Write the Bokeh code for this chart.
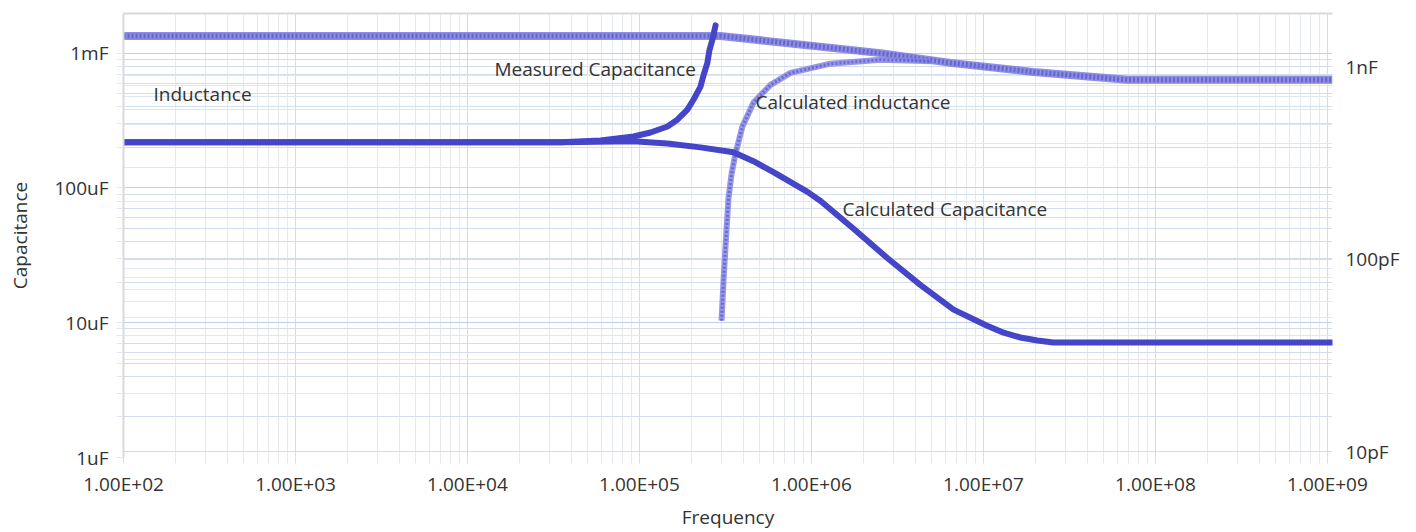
from bokeh.plotting import figure
from bokeh.models import (Range1d, LogAxis, FixedTicker, Grid, Label, LogScale)
from bokeh.embed import file_html
from bokeh.resources import INLINE

# ---------------- data ----------------
X_TICKS = [1e2, 1e3, 1e4, 1e5, 1e6, 1e7, 1e8, 1e9]
X_TICK_LABELS = ["1.00E+02", "1.00E+03", "1.00E+04", "1.00E+05",
                 "1.00E+06", "1.00E+07", "1.00E+08", "1.00E+09"]
C_TICKS = [1e-6, 1e-5, 1e-4, 1e-3]
C_TICK_LABELS = ["1uF", "10uF", "100uF", "1mF"]
L_TICKS = [1e-11, 1e-10, 1e-9]
L_TICK_LABELS = ["10pF", "100pF", "1nF"]

# Measured Capacitance
meas_f = [1e2, 1e3, 1e4, 3.48e4, 5.93e4, 9.23e4, 1.16e5, 1.455e5, 1.66e5, 1.90e5, 2.06e5,
          2.26e5, 2.36e5, 2.48e5, 2.55e5, 2.65e5, 2.77e5]
meas_c = [218e-6, 218e-6, 218e-6, 218e-6, 225e-6, 241e-6, 258e-6, 286e-6, 321e-6, 381e-6, 451e-6,
          562e-6, 689e-6, 843e-6, 1.05e-3, 1.25e-3, 1.61e-3]

# Calculated Capacitance
calc_c_f = [1e2, 1e3, 1e4, 3.48e4, 9.23e4, 1.455e5, 2.26e5, 3.52e5, 4.60e5, 6.01e5, 9.48e5,
            1.13e6, 1.75e6, 2.77e6, 4.31e6, 6.70e6, 1.05e7, 1.31e7, 1.64e7, 2.06e7, 2.55e7,
            6.27e7, 1e8, 1e9, 1.07e9]
calc_c = [218e-6, 218e-6, 218e-6, 218e-6, 222e-6, 214e-6, 200e-6, 184e-6, 158e-6, 131e-6, 93.5e-6,
          80.1e-6, 50.0e-6, 30.1e-6, 19.0e-6, 12.5e-6, 9.5e-6, 8.43e-6, 7.77e-6, 7.38e-6, 7.13e-6,
          7.13e-6, 7.13e-6, 7.13e-6, 7.13e-6]

# Inductance (right axis)
ind_f = [1e2, 1e3, 1e4, 1e5, 2.96e5, 2.52e6, 6.43e6, 1.95e7, 6.87e7, 1e8, 1e9, 1.07e9]
ind_l = [1.45e-9, 1.45e-9, 1.45e-9, 1.45e-9, 1.45e-9, 1.18e-9, 1.05e-9, 9.42e-10, 8.57e-10,
         8.57e-10, 8.57e-10, 8.57e-10]

# Calculated inductance (right axis)
calc_l_f = [3.00e5, 3.08e5, 3.21e5, 3.29e5, 3.43e5, 3.61e5, 3.97e5, 4.60e5, 5.78e5, 7.55e5,
            1.29e6, 2.52e6, 4.92e6]
calc_l = [4.79e-11, 7.71e-11, 1.45e-10, 2.06e-10, 2.77e-10, 3.52e-10, 4.91e-10, 6.52e-10,
          8.07e-10, 9.31e-10, 1.04e-9, 1.09e-9, 1.07e-9]

X_RANGE = (100, 1.07e9)
C_RANGE = (1e-6, 1.97e-3)
L_RANGE = (9.31e-12, 1.897e-9)

FONT = "Open Sans"
TXT = "#333333"
FS = "19px"

p = figure(width=1416, height=532, x_axis_type="log", y_axis_type="log",
           x_range=Range1d(*X_RANGE), y_range=Range1d(*C_RANGE),
           output_backend="svg", toolbar_location=None,
           min_border_left=123, min_border_right=84, min_border_top=13, min_border_bottom=71)
p.outline_line_color = None
p.background_fill_color = "white"
p.extra_y_ranges = {"ind": Range1d(*L_RANGE)}
p.extra_y_scales = {"ind": LogScale()}

def minors(lo, hi):
    return [m * 10.0 ** e for e in range(lo, hi) for m in range(2, 10)]

x_ticker = FixedTicker(ticks=X_TICKS, minor_ticks=minors(2, 9))
c_ticker = FixedTicker(ticks=C_TICKS, minor_ticks=minors(-6, -2))
l_ticker = FixedTicker(ticks=L_TICKS, minor_ticks=minors(-12, -8))

# x axis
xa = p.xaxis[0]
xa.ticker = x_ticker
xa.major_label_overrides = dict(zip(X_TICKS, X_TICK_LABELS))
xa.axis_label = "Frequency"
xa.axis_line_color = None
xa.major_tick_out = 6
xa.minor_tick_out = 6
xa.major_tick_in = 0
xa.minor_tick_in = 0
xa.major_tick_line_color = "#dcdfe4"
xa.minor_tick_line_color = "#e6e8ec"
xa.major_label_standoff = 7
xa.major_label_text_font = FONT
xa.major_label_text_font_size = FS
xa.major_label_text_color = TXT
xa.axis_label_text_font = FONT
xa.axis_label_text_font_size = FS
xa.axis_label_text_font_style = "normal"
xa.axis_label_text_color = TXT
xa.axis_label_standoff = 4

# left axis
ya = p.yaxis[0]
ya.ticker = c_ticker
ya.major_label_overrides = dict(zip(C_TICKS, C_TICK_LABELS))
ya.axis_label = "Capacitance"
ya.axis_line_color = "#d9d9d9"
ya.axis_line_width = 2
ya.major_tick_out = 7
ya.minor_tick_out = 7
ya.major_tick_in = 0
ya.minor_tick_in = 0
ya.major_tick_line_color = "#e3e6ea"
ya.minor_tick_line_color = "#e3e6ea"
ya.major_label_standoff = 8
ya.major_label_text_font = FONT
ya.major_label_text_font_size = FS
ya.major_label_text_color = TXT
ya.axis_label_text_font = FONT
ya.axis_label_text_font_size = FS
ya.axis_label_text_font_style = "normal"
ya.axis_label_text_color = TXT
ya.axis_label_standoff = 18

# right axis
ra = LogAxis(y_range_name="ind", ticker=l_ticker)
ra.major_label_overrides = dict(zip(L_TICKS, L_TICK_LABELS))
ra.axis_line_color = None
ra.major_tick_line_color = None
ra.minor_tick_line_color = None
ra.major_tick_out = 0
ra.minor_tick_out = 0
ra.major_label_standoff = 13
ra.major_label_text_font = FONT
ra.major_label_text_font_size = FS
ra.major_label_text_color = TXT
p.add_layout(ra, "right")

# top border
ta = LogAxis(ticker=FixedTicker(ticks=[]))
ta.axis_line_color = "#d9d9d9"
ta.axis_line_width = 2
ta.major_tick_out = 0
ta.minor_tick_out = 0
ta.major_label_standoff = 0
p.add_layout(ta, "above")

# grids
p.xgrid.ticker = x_ticker
p.xgrid.grid_line_color = "#d8dce2"
p.xgrid.minor_grid_line_color = "#e6e9ee"
p.ygrid.ticker = c_ticker
p.ygrid.grid_line_color = "#c3d2e6"
p.ygrid.minor_grid_line_color = "#d3deec"
rg = Grid(dimension=1, ticker=l_ticker, y_range_name="ind")
rg.grid_line_color = "#d0dcea"
rg.minor_grid_line_color = "#dfe7f1"
p.add_layout(rg, "center")

# hatched (inductance) lines
def hatched(xs, ys, width, base, alpha):
    p.line(xs, ys, y_range_name="ind", line_width=width, line_color=base,
           line_alpha=alpha, line_join="round")
    p.line(xs, ys, y_range_name="ind", line_width=width - 3, line_color="#3d3dc4",
           line_alpha=0.5, line_dash="2 2", line_join="round")

hatched(ind_f, ind_l, 8, "#7a7ade", 0.85)
hatched(calc_l_f, calc_l, 6, "#8686e2", 0.85)

DARK = "#4545c9"
p.line(calc_c_f, calc_c, line_width=6, line_color=DARK, line_join="round", line_cap="round")
p.line(meas_f, meas_c, line_width=6, line_color=DARK, line_join="round", line_cap="round")

# annotations
for txt, x, y in [("Inductance", 30, 364), ("Measured Capacitance", 371, 389),
                  ("Calculated  inductance", 632, 356), ("Calculated  Capacitance", 719, 249)]:
    p.add_layout(Label(x=x, y=y, x_units="screen", y_units="screen", text=txt,
                       text_font=FONT, text_font_size=FS, text_color=TXT,
                       text_baseline="middle"))

open("out.html", "w").write(file_html(p, INLINE))
